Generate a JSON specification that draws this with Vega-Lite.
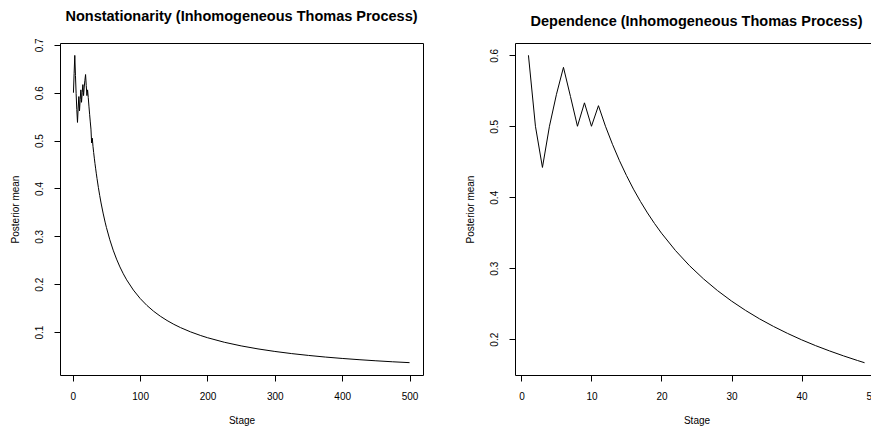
{
  "$schema": "https://vega.github.io/schema/vega-lite/v6.json",
  "padding": {"left": 10, "top": 8, "right": 0, "bottom": 0},
  "bounds": "flush",
  "spacing": 92,
  "background": "white",
  "config": {
    "font": "Liberation Sans",
    "view": {"stroke": "black", "strokeWidth": 1},
    "axis": {
      "domain": false, "grid": false, "ticks": true, "tickColor": "black", "tickSize": 6, "tickWidth": 1,
      "labelFont": "Liberation Sans", "labelFontSize": 10, "labelColor": "black",
      "titleFont": "Liberation Sans", "titleFontSize": 10, "titleFontWeight": "normal", "titleColor": "black",
      "labelOverlap": false, "labelFlush": false
    },
    "axisX": {"labelPadding": 10, "titlePadding": 14},
    "axisY": {"labelAngle": -90, "labelAlign": "center", "labelBaseline": "alphabetic", "labelPadding": 12, "titlePadding": 13.5},
    "title": {"font": "Liberation Sans", "fontSize": 14.5, "fontWeight": "bold", "color": "black", "anchor": "middle", "frame": "group", "offset": 13.5}
  },
  "datasets": {
    "left": [
      {"stage": 1, "mean": 0.600}, {"stage": 2, "mean": 0.640}, {"stage": 3, "mean": 0.678}, {"stage": 4, "mean": 0.636},
      {"stage": 5, "mean": 0.598}, {"stage": 6, "mean": 0.565}, {"stage": 7, "mean": 0.538}, {"stage": 8, "mean": 0.568},
      {"stage": 9, "mean": 0.592}, {"stage": 10, "mean": 0.562}, {"stage": 11, "mean": 0.586}, {"stage": 12, "mean": 0.606},
      {"stage": 13, "mean": 0.580}, {"stage": 14, "mean": 0.600}, {"stage": 15, "mean": 0.617}, {"stage": 16, "mean": 0.594},
      {"stage": 17, "mean": 0.612}, {"stage": 18, "mean": 0.626}, {"stage": 19, "mean": 0.638}, {"stage": 20, "mean": 0.615},
      {"stage": 21, "mean": 0.594}, {"stage": 22, "mean": 0.606}, {"stage": 23, "mean": 0.590}, {"stage": 24, "mean": 0.572},
      {"stage": 25, "mean": 0.555}, {"stage": 26, "mean": 0.539}, {"stage": 27, "mean": 0.524}, {"stage": 28, "mean": 0.495},
      {"stage": 29, "mean": 0.505}, {"stage": 30, "mean": 0.488}, {"stage": 31, "mean": 0.4753}, {"stage": 32, "mean": 0.4633},
      {"stage": 33, "mean": 0.4519}, {"stage": 34, "mean": 0.4410}, {"stage": 35, "mean": 0.4306}, {"stage": 36, "mean": 0.4207},
      {"stage": 38, "mean": 0.4022}, {"stage": 40, "mean": 0.3853}, {"stage": 42, "mean": 0.3697}, {"stage": 45, "mean": 0.3486},
      {"stage": 48, "mean": 0.3297}, {"stage": 50, "mean": 0.3183}, {"stage": 55, "mean": 0.2928}, {"stage": 60, "mean": 0.2711},
      {"stage": 65, "mean": 0.2524}, {"stage": 70, "mean": 0.2361}, {"stage": 75, "mean": 0.2218}, {"stage": 80, "mean": 0.2091},
      {"stage": 90, "mean": 0.1877}, {"stage": 100, "mean": 0.1702}, {"stage": 110, "mean": 0.1557}, {"stage": 120, "mean": 0.1435},
      {"stage": 130, "mean": 0.1331}, {"stage": 140, "mean": 0.1241}, {"stage": 150, "mean": 0.1162}, {"stage": 160, "mean": 0.1093},
      {"stage": 175, "mean": 0.1003}, {"stage": 190, "mean": 0.0927}, {"stage": 200, "mean": 0.0882}, {"stage": 225, "mean": 0.0787},
      {"stage": 250, "mean": 0.0711}, {"stage": 275, "mean": 0.0648}, {"stage": 300, "mean": 0.0595}, {"stage": 325, "mean": 0.0550},
      {"stage": 350, "mean": 0.0512}, {"stage": 375, "mean": 0.0478}, {"stage": 400, "mean": 0.0449}, {"stage": 425, "mean": 0.0423},
      {"stage": 450, "mean": 0.0400}, {"stage": 475, "mean": 0.0379}, {"stage": 500, "mean": 0.0361}
    ],
    "right": [
      {"stage": 1, "mean": 0.600}, {"stage": 2, "mean": 0.500}, {"stage": 3, "mean": 0.442}, {"stage": 4, "mean": 0.500},
      {"stage": 5, "mean": 0.545}, {"stage": 6, "mean": 0.583}, {"stage": 7, "mean": 0.542}, {"stage": 8, "mean": 0.500},
      {"stage": 9, "mean": 0.533}, {"stage": 10, "mean": 0.500}, {"stage": 11, "mean": 0.529}, {"stage": 12, "mean": 0.500},
      {"stage": 13, "mean": 0.4746}, {"stage": 14, "mean": 0.4515}, {"stage": 15, "mean": 0.4306}, {"stage": 16, "mean": 0.4114},
      {"stage": 17, "mean": 0.3940}, {"stage": 18, "mean": 0.3779}, {"stage": 19, "mean": 0.3631}, {"stage": 20, "mean": 0.3494},
      {"stage": 22, "mean": 0.3249}, {"stage": 24, "mean": 0.3036}, {"stage": 26, "mean": 0.2850}, {"stage": 28, "mean": 0.2685},
      {"stage": 30, "mean": 0.2538}, {"stage": 32, "mean": 0.2406}, {"stage": 34, "mean": 0.2287}, {"stage": 36, "mean": 0.2180},
      {"stage": 38, "mean": 0.2082}, {"stage": 40, "mean": 0.1992}, {"stage": 42, "mean": 0.1910}, {"stage": 44, "mean": 0.1835},
      {"stage": 46, "mean": 0.1765}, {"stage": 48, "mean": 0.1700}, {"stage": 49, "mean": 0.1669}
    ]
  },
  "hconcat": [
    {
      "width": 363, "height": 332,
      "title": "Nonstationarity (Inhomogeneous Thomas Process)",
      "data": {"name": "left"},
      "mark": {"type": "line", "color": "black", "strokeWidth": 1, "clip": true},
      "encoding": {
        "x": {"field": "stage", "type": "quantitative", "scale": {"domain": [-18.96, 519.96], "nice": false, "zero": false},
              "axis": {"values": [0, 100, 200, 300, 400, 500], "format": "d", "title": "Stage"}},
        "y": {"field": "mean", "type": "quantitative", "scale": {"domain": [0.0103, 0.7039], "nice": false, "zero": false},
              "axis": {"values": [0.1, 0.2, 0.3, 0.4, 0.5, 0.6, 0.7], "format": ".1f", "title": "Posterior mean"}}
      }
    },
    {
      "width": 363, "height": 332,
      "title": "Dependence (Inhomogeneous Thomas Process)",
      "data": {"name": "right"},
      "mark": {"type": "line", "color": "black", "strokeWidth": 1, "clip": true},
      "encoding": {
        "x": {"field": "stage", "type": "quantitative", "scale": {"domain": [-0.92, 50.92], "nice": false, "zero": false},
              "axis": {"values": [0, 10, 20, 30, 40, 50], "format": "d", "title": "Stage"}},
        "y": {"field": "mean", "type": "quantitative", "scale": {"domain": [0.1496, 0.6173], "nice": false, "zero": false},
              "axis": {"values": [0.2, 0.3, 0.4, 0.5, 0.6], "format": ".1f", "title": "Posterior mean"}}
      }
    }
  ]
}
